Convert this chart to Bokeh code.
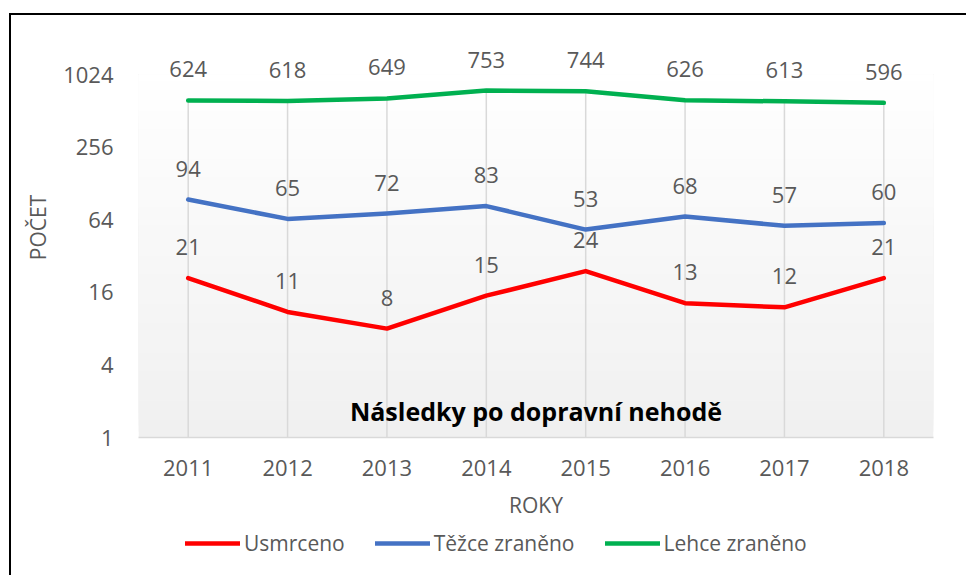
from bokeh.plotting import figure
from bokeh.layouts import column
from bokeh.models import (Range1d, FixedTicker, BoxAnnotation, Label, ColumnDataSource,
                          Legend, LegendItem)
from bokeh.core.properties import value
from bokeh.embed import file_html
from bokeh.resources import INLINE

years = ["2011", "2012", "2013", "2014", "2015", "2016", "2017", "2018"]
usmrceno = [21, 11, 8, 15, 24, 13, 12, 21]
tezce = [94, 65, 72, 83, 53, 68, 57, 60]
lehce = [624, 618, 649, 753, 744, 626, 613, 596]
y_ticks = [1, 4, 16, 64, 256, 1024]
y_tick_labels = ["1", "4", "16", "64", "256", "1024"]

series_names = ["Usmrceno", "Těžce zraněno", "Lehce zraněno"]
series_values = [usmrceno, tezce, lehce]
series_colors = ["#FF0000", "#4472C4", "#00B050"]

FONT = "Open Sans"
GREY = "#595959"

TOP, BOTTOM = 2, 90
frame_h = 420
y_end = 2 ** (10 * frame_h / 363.0)

# ---------------- main chart ----------------
p = figure(frame_width=795, frame_height=frame_h, x_range=years,
           y_range=Range1d(1, y_end),
           y_axis_type="log", output_backend="svg", toolbar_location=None,
           min_border_left=127, min_border_right=33, min_border_top=TOP,
           min_border_bottom=BOTTOM)
p.outline_line_color = None
p.xgrid.visible = False
p.ygrid.visible = False

# gradient plot-area background (white top -> light grey bottom)
N = 60
for i in range(N):
    t = i / N
    g = int(round(240 + (255 - 240) * t))
    p.add_layout(BoxAnnotation(bottom=2 ** (10 * t), top=y_ticks[-1],
                               fill_color=(g, g, g), fill_alpha=1.0,
                               line_color=None, level="underlay"))

# drop lines from axis to highest series
p.segment(x0=years, y0=[y_ticks[0]] * len(years), x1=years, y1=lehce,
          line_color="#D9D9D9", line_width=1.5)

for name, vals, col in zip(series_names, series_values, series_colors):
    src = ColumnDataSource(dict(x=years, y=vals, t=[str(v) for v in vals]))
    p.line("x", "y", source=src, line_color=col, line_width=4.5,
           line_cap="round", line_join="round")
    p.text("x", "y", text="t", source=src, y_offset=-31, text_align="center",
           text_baseline="middle", text_font=value(FONT), text_font_size="22px",
           text_color=GREY)

# axes
p.yaxis.ticker = FixedTicker(ticks=y_ticks)
p.yaxis.major_label_overrides = {t: l for t, l in zip(y_ticks, y_tick_labels)}
for ax in (p.xaxis[0], p.yaxis[0]):
    ax.major_tick_line_color = None
    ax.minor_tick_line_color = None
    ax.major_label_text_font = FONT
    ax.major_label_text_font_size = "22px"
    ax.major_label_text_color = GREY
    ax.axis_label_text_font = FONT
    ax.axis_label_text_font_size = "21px"
    ax.axis_label_text_font_style = "normal"
    ax.axis_label_text_color = GREY
p.yaxis.axis_line_color = None
p.yaxis.major_label_standoff = 19
p.yaxis.axis_label = "POČET"
p.yaxis.axis_label_standoff = 8
p.xaxis.axis_line_color = "#D9D9D9"
p.xaxis.axis_line_width = 1.5
p.xaxis.major_label_standoff = 16
p.xaxis.axis_label = "ROKY"
p.xaxis.axis_label_standoff = 12

# title inside plot area
p.add_layout(Label(x=397.5, y=27, x_units="screen", y_units="screen",
                   text="Následky po dopravní nehodě", text_align="center",
                   text_baseline="middle", text_font=FONT, text_font_size="25px",
                   text_font_style="bold", text_color="#000000"))

# ---------------- legend strip ----------------
q = figure(width=955, height=48, x_range=years, y_range=Range1d(10000, 20000),
           output_backend="svg", toolbar_location=None, min_border=0,
           x_axis_location=None, y_axis_location=None)
q.outline_line_color = None
q.xgrid.visible = False
q.ygrid.visible = False
items = []
for name, vals, col in zip(series_names, series_values, series_colors):
    r = q.line(years, vals, line_color=col, line_width=4.5, line_cap="round")
    items.append(LegendItem(label=name, renderers=[r]))
legend = Legend(items=items, orientation="horizontal", location=(47, 17),
                glyph_width=55, glyph_height=30, label_height=30,
                label_standoff=4, spacing=30, padding=0, margin=0,
                border_line_color=None, background_fill_alpha=0,
                label_text_font=FONT, label_text_font_size="21px",
                label_text_color=GREY)
q.add_layout(legend, "center")

layout = column(p, q, styles={"margin-left": "9px", "margin-top": "13px",
                              "border-left": "2px solid #000000",
                              "border-top": "2px solid #000000"})

open("out.html", "w").write(file_html(layout, INLINE))
